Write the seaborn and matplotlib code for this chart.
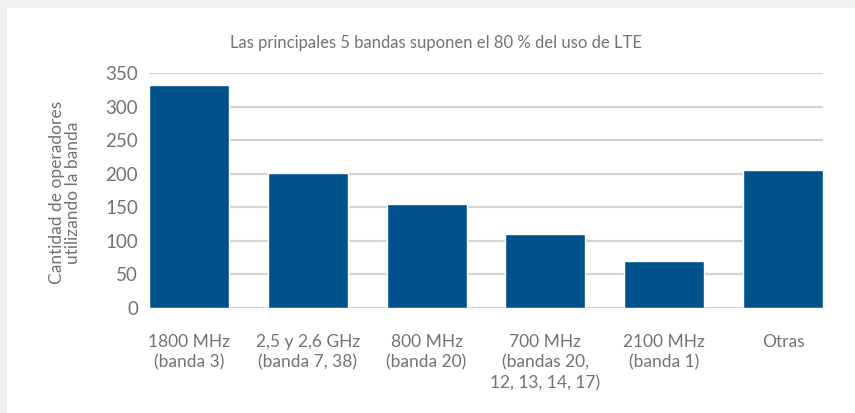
import matplotlib
matplotlib.use("Agg")
import matplotlib.pyplot as plt
import seaborn as sns
import pandas as pd

categories = [
    "1800 MHz\n(banda 3)",
    "2,5 y 2,6 GHz\n(banda 7, 38)",
    "800 MHz\n(banda 20)",
    "700 MHz\n(bandas 20,\n12, 13, 14, 17)",
    "2100 MHz\n(banda 1)",
    "Otras",
]
operadores = [332, 201, 155, 110, 70, 205]
y_ticks = [0, 50, 100, 150, 200, 250, 300, 350]

titulo = "Las principales 5 bandas suponen el 80 % del uso de LTE"
eje_y = "Cantidad de operadores\nutilizando la banda"

sns.set_theme(style="white")
plt.rcParams["font.family"] = ["Lato", "DejaVu Sans"]

text_gray = "#737373"
bar_blue = "#00528c"
grid_gray = "#d3d3d3"

df = pd.DataFrame({"banda": categories, "operadores": operadores})

fig = plt.figure(figsize=(8.55, 4.13), dpi=100)
fig.patch.set_facecolor("#f1f1f1")
# white card behind the chart
fig.patches.append(plt.Rectangle((7 / 855, 0), 1, 1 - 8 / 413,
                                 transform=fig.transFigure, facecolor="white",
                                 edgecolor="none", zorder=-1))

ax = fig.add_axes([149 / 855, 1 - 307.7 / 413, (823 - 149) / 855, (307.7 - 73) / 413])
ax.set_facecolor("none")

sns.barplot(data=df, x="banda", y="operadores", color=bar_blue, saturation=1,
            width=0.673, ax=ax, zorder=3)

ax.set_ylim(0, 350)
ax.set_xlim(-0.3365, 5.3365)
ax.set_yticks(y_ticks)
ax.yaxis.grid(True, color=grid_gray, linewidth=1.6, zorder=0)
ax.set_axisbelow(True)
for s in ax.spines.values():
    s.set_visible(False)

ax.tick_params(axis="y", length=0, pad=8, labelsize=13.5, labelcolor=text_gray)
ax.tick_params(axis="x", length=0, pad=19, labelsize=12.5, labelcolor=text_gray)
for lab in ax.get_xticklabels():
    lab.set_linespacing(1.35)
    lab.set_verticalalignment("top")

ax.set_xlabel("")
ax.set_ylabel(eje_y, color=text_gray, fontsize=12.5, fontweight="normal",
              linespacing=1.0)
ax.yaxis.set_label_coords(-0.101, 0.49)

fig.text(436 / 855, 1 - 43 / 413, titulo, ha="center", va="center",
         fontsize=12, color=text_gray)

fig.savefig("out.png", dpi=100, facecolor=fig.get_facecolor())
